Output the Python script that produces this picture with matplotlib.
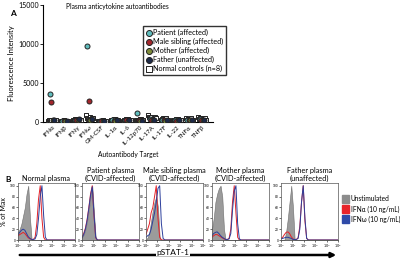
import numpy as np
import matplotlib
matplotlib.use('Agg')
import matplotlib.pyplot as plt
from matplotlib.patches import Patch, FancyArrowPatch
from matplotlib.ticker import NullLocator

# ---------- Panel A data ----------
targets = ['IFNα', 'IFNβ', 'IFNγ', 'IFNω', 'GM-CSF', 'IL-1α', 'IL-6',
           'IL-12p70', 'IL-17A', 'IL-17F', 'IL-22', 'TNFα', 'TNFβ']
patient = [3600, 150, 300, 9800, 120, 250, 250, 1200, 350, 250, 200, 300, 350]
sibling = [2600, 120, 250, 2700, 100, 180, 200, 200, 300, 200, 150, 250, 300]
mother = [250, 100, 200, 300, 80, 150, 150, 150, 250, 150, 150, 200, 250]
father = [200, 130, 350, 400, 100, 200, 200, 150, 300, 250, 200, 250, 300]
normal = [
    [150, 200, 100, 250, 300, 120, 180, 220],
    [100, 150, 120, 200, 80, 130, 160, 110],
    [250, 300, 350, 200, 400, 280, 320, 260],
    [900, 500, 400, 300, 600, 350, 450, 550],
    [100, 150, 80, 120, 200, 90, 130, 160],
    [200, 300, 250, 400, 350, 150, 220, 280],
    [150, 300, 250, 350, 400, 200, 180, 220],
    [200, 300, 250, 150, 400, 350, 180, 220],
    [900, 600, 500, 700, 400, 550, 650, 450],
    [300, 400, 500, 350, 250, 450, 300, 200],
    [200, 300, 250, 350, 400, 150, 220, 280],
    [500, 300, 400, 250, 350, 450, 200, 300],
    [600, 400, 500, 300, 450, 350, 550, 250],
]

# ---------- Panel B data (log10 pSTAT-1 vs % of max) ----------
grid = [0, 0.15, 0.3, 0.45, 0.6, 0.75, 0.9, 1.05, 1.2, 1.35, 1.5,
        1.65, 1.8, 1.95, 2.1, 2.25, 2.4, 2.55, 2.7, 2.85, 3.0, 5.0]
panels = ['Normal plasma', 'Patient plasma\n(CVID-affected)',
          'Male sibling plasma\n(CVID-affected)', 'Mother plasma\n(CVID-affected)',
          'Father plasma\n(unaffected)']
unstim = [
    [15, 20, 30, 45, 60, 85, 100, 40, 0, 0, 0, 0, 0, 0, 0, 0, 0, 0, 0, 0, 0, 0],
    [5, 10, 20, 35, 55, 80, 100, 50, 5, 0, 0, 0, 0, 0, 0, 0, 0, 0, 0, 0, 0, 0],
    [0, 5, 15, 35, 55, 70, 80, 60, 5, 0, 0, 0, 0, 0, 0, 0, 0, 0, 0, 0, 0, 0],
    [20, 40, 70, 85, 95, 100, 80, 20, 0, 0, 0, 0, 0, 0, 0, 0, 0, 0, 0, 0, 0, 0],
    [0, 0, 0, 15, 40, 70, 100, 60, 0, 0, 0, 0, 0, 0, 0, 0, 0, 0, 0, 0, 0, 0],
]
ifna = [
    [8, 10, 12, 14, 12, 8, 4, 2, 1, 1, 5, 30, 75, 100, 40, 5, 0, 0, 0, 0, 0, 0],
    [5, 12, 22, 38, 60, 85, 100, 45, 4, 0, 0, 0, 0, 0, 0, 0, 0, 0, 0, 0, 0, 0],
    [10, 20, 30, 50, 60, 80, 100, 40, 5, 0, 0, 0, 0, 0, 0, 0, 0, 0, 0, 0, 0, 0],
    [5, 8, 10, 10, 8, 6, 4, 2, 1, 1, 3, 20, 70, 100, 50, 5, 0, 0, 0, 0, 0, 0],
    [3, 5, 10, 14, 15, 12, 6, 2, 1, 1, 4, 25, 70, 100, 35, 3, 0, 0, 0, 0, 0, 0],
]
ifnw = [
    [10, 14, 18, 20, 18, 12, 6, 3, 1, 1, 2, 10, 40, 80, 100, 45, 5, 0, 0, 0, 0, 0],
    [4, 10, 20, 36, 58, 82, 98, 48, 5, 0, 0, 0, 0, 0, 0, 0, 0, 0, 0, 0, 0, 0],
    [5, 8, 10, 20, 35, 50, 70, 95, 100, 30, 3, 0, 0, 0, 0, 0, 0, 0, 0, 0, 0, 0],
    [8, 12, 14, 15, 12, 8, 5, 3, 1, 1, 2, 12, 55, 90, 100, 30, 2, 0, 0, 0, 0, 0],
    [2, 3, 4, 5, 5, 4, 3, 1, 1, 1, 3, 20, 70, 100, 40, 3, 0, 0, 0, 0, 0, 0],
]

W, H = 400, 260
plt.rcParams['font.family'] = ['Lato', 'DejaVu Sans']
fig = plt.figure(figsize=(4, 2.6), dpi=100)


def px_axes(x0, y0, x1, y1):
    return fig.add_axes([x0 / W, 1 - y1 / H, (x1 - x0) / W, (y1 - y0) / H])


# ================= Panel A =================
ax = px_axes(43, 5, 213, 122)
x = np.arange(len(targets))
series = [
    (patient, 'Patient (affected)', '#5fbcbc', -0.18),
    (sibling, 'Male sibling (affected)', '#a3262c', -0.06),
    (mother, 'Mother (affected)', '#7d8b3a', 0.06),
    (father, 'Father (unaffected)', '#1d2a48', 0.18),
]
for vals, lab, col, off in series:
    ax.scatter(x + off, vals, s=13, marker='o', facecolor=col, edgecolor='#222222',
               linewidth=0.7, label=lab, zorder=4)
offs = np.linspace(-0.3, 0.3, 8)
for i, vals in enumerate(normal):
    ax.scatter(i + offs, vals, s=10, marker='s', facecolor='white', edgecolor='#222222',
               linewidth=0.7, zorder=3, label='Normal controls (n=8)' if i == 0 else None)
ax.set_xlim(-0.72, 12.88)
ax.set_ylim(0, 15000)
ax.set_yticks([0, 5000, 10000, 15000])
ax.tick_params(axis='y', labelsize=5, length=2, width=0.6, pad=1)
ax.set_xticks(x)
ax.set_xticklabels(targets, rotation=45, ha='right', rotation_mode='anchor', fontsize=4.5)
ax.tick_params(axis='x', length=0, pad=2)
for s in ['top', 'right']:
    ax.spines[s].set_visible(False)
for s in ['left', 'bottom']:
    ax.spines[s].set_linewidth(0.8)
ax.set_ylabel('Fluorescence Intensity', fontsize=5.5, labelpad=2)
ax.set_xlabel('Autoantibody Target', fontsize=4.8, labelpad=3)
fig.text(117 / W, 1 - 7 / H, 'Plasma anticytokine autoantibodies', fontsize=4.8,
         ha='center', va='center')
leg = ax.legend(loc='upper left', bbox_to_anchor=(143 / W, 1 - 26 / H),
                bbox_transform=fig.transFigure, fontsize=5.2, frameon=True,
                fancybox=False, edgecolor='black', handletextpad=0.2,
                borderpad=0.4, labelspacing=0.25, handlelength=0.8, borderaxespad=0,
                markerscale=1.2)
leg.get_frame().set_linewidth(1.0)
fig.text(13 / W, 1 - 14 / H, 'A', fontsize=6, fontweight='bold', ha='center', va='center')

# ================= Panel B =================
lefts = [18, 82, 146, 212, 281]
pw = 57
gx = 10 ** np.array(grid)
for k in range(5):
    a = px_axes(lefts[k], 183, lefts[k] + pw, 240)
    a.fill_between(gx, unstim[k], color='#9b9b9b', edgecolor='#6e6e6e', linewidth=0.4)
    a.plot(gx, ifna[k], color='#e32228', linewidth=0.7)
    a.plot(gx, ifnw[k], color='#2c3f9c', linewidth=0.7)
    a.set_xscale('log')
    a.set_xlim(1, 1e5)
    a.set_ylim(0, 105)
    a.set_xticks([1, 10, 100, 1e3, 1e4, 1e5])
    a.set_xticklabels([r'$10^{%d}$' % i for i in range(6)], fontsize=2.5)
    a.xaxis.set_minor_locator(NullLocator())
    a.set_yticks([0, 20, 40, 60, 80, 100])
    a.set_yticklabels(['0', '20', '40', '60', '80', '100'], fontsize=2.3)
    a.tick_params(length=1.2, width=0.4, pad=0.5)
    for s in a.spines.values():
        s.set_linewidth(0.5)
        s.set_color('#555555')
    a.set_title(panels[k], fontsize=5.3, pad=1.5, linespacing=1.15)
    if k == 0:
        a.set_ylabel('% of Max', fontsize=5, labelpad=2)

fig.text(8 / W, 1 - 180 / H, 'B', fontsize=6, fontweight='bold', ha='center', va='center')

# legend for B
handles = [Patch(facecolor='#8c8c8c', edgecolor='#8c8c8c'),
           Patch(facecolor='#e8242b', edgecolor='#e8242b'),
           Patch(facecolor='#2f4aa8', edgecolor='#2f4aa8')]
fig.legend(handles, ['Unstimulated', 'IFNα (10 ng/mL)', 'IFNω (10 ng/mL)'],
           loc='upper left', bbox_to_anchor=(342 / W, 1 - 195 / H), fontsize=4.8,
           frameon=False, handlelength=1.0, handleheight=1.5, handletextpad=0.3,
           labelspacing=0.3, borderaxespad=0, borderpad=0)

# pSTAT-1 arrow
fig.add_artist(FancyArrowPatch(
    (17 / W, 1 - 255 / H), (339 / W, 1 - 255 / H), transform=fig.transFigure,
    arrowstyle='-|>', mutation_scale=7, linewidth=1.8, color='black'))
fig.text(173 / W, 1 - 252 / H, 'pSTAT-1', fontsize=6, ha='center', va='center',
         bbox=dict(facecolor='white', edgecolor='none', pad=0.6))

fig.savefig('out.png', dpi=100)
